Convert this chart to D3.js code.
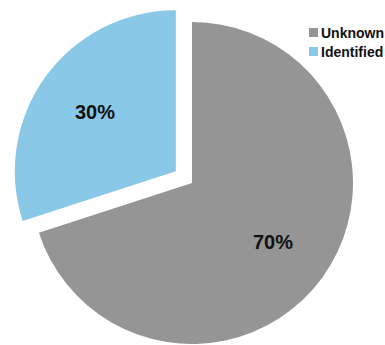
<!DOCTYPE html>
<html>
<head>
<meta charset="utf-8">
<script src="https://cdn.jsdelivr.net/npm/d3@7"></script>
<style>
    body { margin: 0; background: #fff; }
    svg { display: block; }
    .pct { font-family: "Liberation Sans", Arial, sans-serif; font-weight: bold; font-size: 20px; fill: #111; }
    .legend-label { font-family: "Liberation Sans", Arial, sans-serif; font-weight: bold; font-size: 14px; fill: #111; }
</style>
</head>
<body>
<script>
// chart data
var categories = ["Unknown", "Identified"]
var shares = [70, 30]
var labels = ["70%", "30%"]
var colors = ["#959595", "#8ac8e8"]

document.addEventListener('DOMContentLoaded', function () {
    const width = 385
    const height = 345

    //pie centre and radius
    const cx = 192
    const cy = 183
    const radius = 161
    const explode = 20 // identified slice pulled out
    const labelRadius = 100

    var data = categories.map((c, i) => ({ name: c, value: shares[i], label: labels[i] }))

    var svg = d3.select("body")
        .append("svg")
        .attr("width", width)
        .attr("height", height)

    var color = d3.scaleOrdinal()
        .domain(categories)
        .range(colors)

    var pie = d3.pie()
        .value((d) => d.value)
        .sort(null)

    var arc = d3.arc()
        .innerRadius(0)
        .outerRadius(radius)

    var labelArc = d3.arc()
        .innerRadius(labelRadius)
        .outerRadius(labelRadius)

    //offset for exploded slice
    function offset(d) {
        if (d.data.name !== "Identified") return [0, 0]
        var mid = (d.startAngle + d.endAngle) / 2
        return [Math.sin(mid) * explode, -Math.cos(mid) * explode]
    }

    var slices = svg.selectAll("g.slice")
        .data(pie(data))
        .enter()
        .append("g")
        .attr("class", "slice")
        .attr("transform", (d) => {
            var o = offset(d)
            return "translate(" + (cx + o[0]) + "," + (cy + o[1]) + ")"
        })

    slices.append("path")
        .attr("d", arc)
        .attr("fill", (d) => color(d.data.name))

    slices.append("text")
        .attr("class", "pct")
        .attr("text-anchor", "middle")
        .attr("dominant-baseline", "central")
        .attr("transform", (d) => "translate(" + labelArc.centroid(d) + ")")
        .text((d) => d.data.label)

    //legend
    var legend = svg.selectAll("g.legend")
        .data(categories)
        .enter()
        .append("g")
        .attr("class", "legend")
        .attr("transform", (d, i) => "translate(309," + (28 + i * 19) + ")")

    legend.append("rect")
        .attr("width", 9)
        .attr("height", 9)
        .attr("fill", (d) => color(d))

    legend.append("text")
        .attr("class", "legend-label")
        .attr("x", 12)
        .attr("y", 9.5)
        .text((d) => d)
});
</script>
</body>
</html>
